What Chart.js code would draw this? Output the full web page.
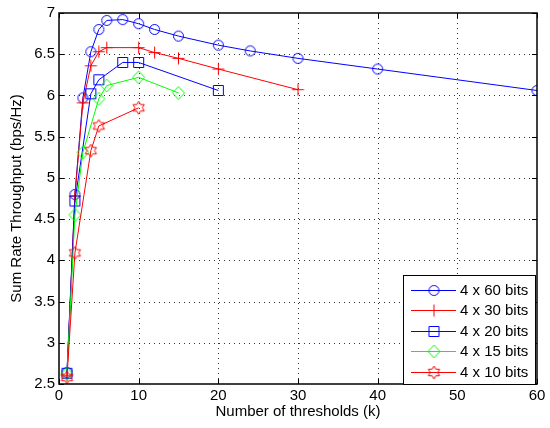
<!DOCTYPE html>
<html>
<head>
<meta charset="utf-8">
<script src="https://cdn.jsdelivr.net/npm/chart.js@4/dist/chart.umd.min.js"></script>
<style>
  html, body { margin: 0; padding: 0; background: #fff; }
  #wrap { width: 550px; height: 428px; }
</style>
</head>
<body>
<div id="wrap"><canvas id="chart" width="550" height="428"></canvas></div>
<script>
// thresholds (k) and sum rates per quantizer
const k60 = [1, 2, 3, 4, 5, 6, 8, 10, 12, 15, 20, 24, 30, 40, 60];
const rate60 = [2.64, 4.80, 5.97, 6.53, 6.80, 6.91, 6.92, 6.87, 6.80, 6.72, 6.61, 6.54, 6.45, 6.32, 6.06];
const k30 = [1, 2, 3, 4, 5, 6, 10, 12, 15, 20, 30];
const rate30 = [2.60, 4.78, 5.91, 6.36, 6.53, 6.58, 6.58, 6.52, 6.45, 6.32, 6.07];
const k20 = [1, 2, 4, 5, 8, 10, 20];
const rate20 = [2.63, 4.72, 6.02, 6.19, 6.40, 6.40, 6.06];
const k15 = [1, 2, 3, 5, 6, 10, 15];
const rate15 = [2.62, 4.55, 5.31, 5.96, 6.12, 6.22, 6.03];
const k10 = [1, 2, 4, 5, 10];
const rate10 = [2.58, 4.09, 5.33, 5.63, 5.85];

const seriesLabels = ["4 x 60 bits", "4 x 30 bits", "4 x 20 bits", "4 x 15 bits", "4 x 10 bits"];
const xTicks = [0, 10, 20, 30, 40, 50, 60];
const yTicks = [2.5, 3, 3.5, 4, 4.5, 5, 5.5, 6, 6.5, 7];

const FONT = "'Liberation Sans', Arial, Helvetica, sans-serif";

// matlab style hollow markers drawn on small canvases
function makeMarker(kind, color) {
  const c = document.createElement("canvas");
  c.width = 15; c.height = 15;
  const g = c.getContext("2d");
  const m = 7.5;
  g.strokeStyle = color;
  g.lineWidth = 1;
  g.beginPath();
  if (kind === "circle") {
    g.arc(m, m, 5, 0, Math.PI * 2);
  } else if (kind === "plus") {
    g.moveTo(m - 6, m); g.lineTo(m + 6, m);
    g.moveTo(m, m - 6); g.lineTo(m, m + 6);
  } else if (kind === "square") {
    g.rect(m - 5, m - 5, 10, 10);
  } else if (kind === "diamond") {
    g.moveTo(m, m - 6.5); g.lineTo(m + 6, m); g.lineTo(m, m + 6.5); g.lineTo(m - 6, m); g.closePath();
  } else if (kind === "hexagram") {
    for (let i = 0; i < 12; i++) {
      const r = i % 2 === 0 ? 6.5 : 3.75;
      const a = -Math.PI / 2 + i * Math.PI / 6;
      const px = m + r * Math.cos(a), py = m + r * Math.sin(a);
      if (i === 0) g.moveTo(px, py); else g.lineTo(px, py);
    }
    g.closePath();
  }
  g.stroke();
  return c;
}

function pts(xs, ys) {
  return xs.map((x, i) => ({ x: x, y: ys[i] }));
}

const styles = [
  { color: "#0000ff", marker: makeMarker("circle", "#0000ff") },
  { color: "#ff0000", marker: makeMarker("plus", "#ff0000") },
  { color: "#0000ff", marker: makeMarker("square", "#0000ff") },
  { color: "#00ff00", marker: makeMarker("diamond", "#00ff00") },
  { color: "#ff0000", marker: makeMarker("hexagram", "#ff0000") },
];
const seriesData = [pts(k60, rate60), pts(k30, rate30), pts(k20, rate20), pts(k15, rate15), pts(k10, rate10)];

const datasets = seriesData.map((d, i) => ({
  label: seriesLabels[i],
  data: d,
  borderColor: styles[i].color,
  borderWidth: 1,
  pointStyle: styles[i].marker,
  pointRadius: 6,
  pointHoverRadius: 6,
  fill: false,
  tension: 0,
  order: 4 - i,
}));

// dotted grid, box around plot area with inward ticks, like matlab axes
const framePlugin = {
  id: "frame",
  beforeDatasetsDraw(chart) {
    const { ctx, chartArea: a, scales } = chart;
    ctx.save();
    ctx.strokeStyle = "rgba(0,0,0,0.8)";
    ctx.lineWidth = 1;
    ctx.setLineDash([1, 4]);
    ctx.beginPath();
    xTicks.slice(1, -1).forEach((v) => {
      const px = Math.round(scales.x.getPixelForValue(v)) + 0.5;
      ctx.moveTo(px, a.bottom); ctx.lineTo(px, a.top);
    });
    yTicks.slice(1, -1).forEach((v) => {
      const py = Math.round(scales.y.getPixelForValue(v)) + 0.5;
      ctx.moveTo(a.left, py); ctx.lineTo(a.right, py);
    });
    ctx.stroke();
    ctx.restore();
  },
  afterDatasetsDraw(chart) {
    const { ctx, chartArea: a, scales } = chart;
    ctx.save();
    ctx.strokeStyle = "#000";
    ctx.lineWidth = 1;
    ctx.beginPath();
    xTicks.forEach((v) => {
      const px = Math.round(scales.x.getPixelForValue(v)) + 0.5;
      ctx.moveTo(px, a.bottom); ctx.lineTo(px, a.bottom - 5);
      ctx.moveTo(px, a.top); ctx.lineTo(px, a.top + 5);
    });
    yTicks.forEach((v) => {
      const py = Math.round(scales.y.getPixelForValue(v)) + 0.5;
      ctx.moveTo(a.left, py); ctx.lineTo(a.left + 5, py);
      ctx.moveTo(a.right, py); ctx.lineTo(a.right - 5, py);
    });
    ctx.stroke();
    ctx.lineWidth = 1.5;
    ctx.strokeRect(a.left, a.top, a.right - a.left, a.bottom - a.top);
    ctx.restore();
  },
  afterDraw(chart) {
    const { ctx, chartArea: a } = chart;
    const boxW = 132, boxH = 109;
    const bx = a.right - 134, by = a.bottom - 109;
    ctx.save();
    ctx.fillStyle = "#fff";
    ctx.fillRect(bx, by, boxW, boxH);
    ctx.strokeStyle = "#000";
    ctx.lineWidth = 1;
    ctx.strokeRect(bx + 0.5, by + 0.5, boxW, boxH);
    ctx.font = "15px " + FONT;
    ctx.textBaseline = "middle";
    ctx.fillStyle = "#000";
    seriesLabels.forEach((lab, i) => {
      const yy = by + 14.5 + i * 20.5;
      ctx.strokeStyle = styles[i].color;
      ctx.lineWidth = 1;
      ctx.beginPath();
      ctx.moveTo(bx + 8, Math.round(yy) + 0.5);
      ctx.lineTo(bx + 53, Math.round(yy) + 0.5);
      ctx.stroke();
      const mk = styles[i].marker;
      ctx.drawImage(mk, bx + 31 - mk.width / 2, Math.round(yy) + 0.5 - mk.height / 2);
      ctx.fillText(lab, bx + 57, yy + 1);
    });
    ctx.restore();
  },
};

new Chart(document.getElementById("chart"), {
  type: "line",
  data: { datasets: datasets },
  options: {
    responsive: false,
    animation: false,
    events: [],
    layout: { padding: { left: 8, top: 9, right: 13, bottom: 7 } },
    plugins: { legend: { display: false }, tooltip: { enabled: false } },
    scales: {
      x: {
        type: "linear",
        min: 0,
        max: 60,
        afterBuildTicks: (s) => { s.ticks = xTicks.map((v) => ({ value: v })); },
        afterFit: (s) => { s.height = 37; },
        grid: { display: false, drawTicks: false },
        border: { display: false },
        ticks: { color: "#000", font: { family: FONT, size: 15 }, padding: 3, maxRotation: 0 },
        title: { display: true, text: "Number of thresholds (k)", color: "#000", font: { family: FONT, size: 15 }, padding: { top: 0, bottom: 0 } },
      },
      y: {
        type: "linear",
        min: 2.5,
        max: 7,
        afterBuildTicks: (s) => { s.ticks = yTicks.map((v) => ({ value: v })); },
        afterFit: (s) => { s.width = 51; },
        grid: { display: false, drawTicks: false },
        border: { display: false },
        ticks: { color: "#000", font: { family: FONT, size: 15 }, padding: 4, callback: (v) => String(v) },
        title: { display: true, text: "Sum Rate Throughput (bps/Hz)", color: "#000", font: { family: FONT, size: 15 }, padding: { top: 0, bottom: 2 } },
      },
    },
  },
  plugins: [framePlugin],
});
</script>
</body>
</html>
